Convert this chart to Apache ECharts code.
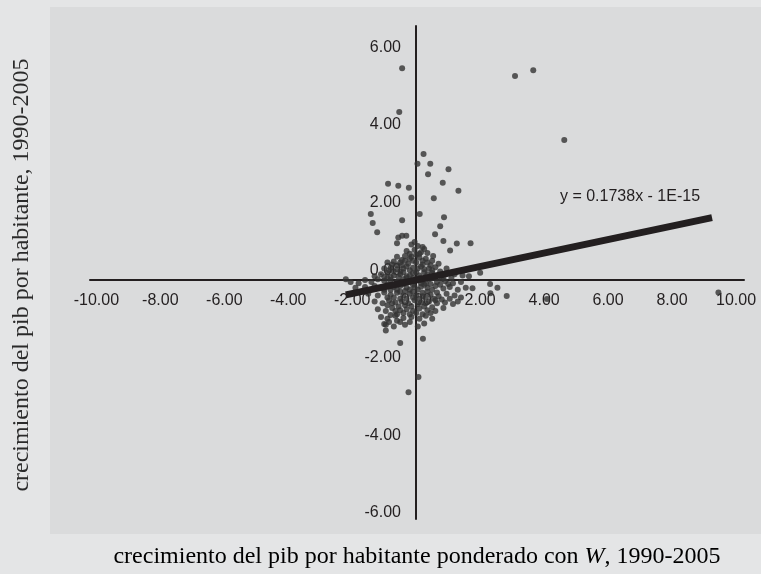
<!DOCTYPE html>
<html><head><meta charset="utf-8">
<script src="https://cdn.jsdelivr.net/npm/echarts@6/dist/echarts.min.js"></script>
<style>html,body{margin:0;padding:0;background:#e4e5e6;}#c{width:761px;height:574px;}</style>
</head><body><div id="c"></div>
<script>
const xTicks = [-10, -8, -6, -4, -2, 0, 2, 4, 6, 8, 10];
const yTicks = [-6, -4, -2, 0, 2, 4, 6];
const outlierPoints = [
  [-0.44,5.46],[3.09,5.26],[3.66,5.41],[4.63,3.61],[-0.53,4.33],[0.23,3.25],[0.04,3.00],[0.44,3.00],
  [1.01,2.86],[0.37,2.73],[0.83,2.51],[1.32,2.30],[-0.88,2.48],[-0.56,2.43],[-0.23,2.38],[-0.15,2.12],
  [0.55,2.11],[-1.42,1.70],[-1.36,1.47],[-1.22,1.23],[-0.44,1.54],[0.11,1.70],[0.87,1.62],[0.75,1.39],
  [0.59,1.18],[0.85,1.01],[1.27,0.94],[1.70,0.95],[1.06,0.76],[0.53,0.62],[-0.44,1.14],[-0.31,1.14],
  [-0.56,1.10],[-0.60,0.95],[2.0,0.19],[2.31,-0.10],[2.54,-0.20],[2.83,-0.41],[1.76,-0.21],[2.32,-0.34],
  [4.09,-0.49],[9.45,-0.32],[-1.0,-1.13],[-0.5,-1.62],[0.21,-1.51],[0.07,-2.50],[-0.24,-2.89]
];
const clusterPoints = [
  [-0.15,0.92],[0.05,0.88],[0.2,0.85],[-0.05,0.98],
  [-0.3,0.75],[-0.05,0.78],[0.15,0.72],[0.35,0.7],[-0.2,0.68],[0.25,0.8],
  [-0.6,0.6],[-0.35,0.62],[-0.15,0.6],[0.1,0.58],[0.3,0.55],[0.5,0.5],[-0.45,0.52],[0.0,0.65],[0.2,0.5],
  [-0.9,0.45],[-0.7,0.48],[-0.5,0.45],[-0.25,0.42],[0.0,0.45],[0.2,0.4],[0.45,0.38],[0.7,0.42],[-0.1,0.5],[0.35,0.45],[-0.6,0.38],
  [-1.0,0.3],[-0.8,0.32],[-0.6,0.28],[-0.4,0.3],[-0.2,0.25],[0.05,0.3],[0.25,0.28],[0.5,0.25],[0.75,0.22],[0.95,0.3],[1.2,0.15],
  [-0.7,0.22],[-0.3,0.35],[0.15,0.35],[0.4,0.3],[0.6,0.33],[-0.5,0.22],[-0.1,0.32],
  [-1.3,0.1],[-1.1,0.15],[-0.9,0.18],[-0.7,0.12],[-0.5,0.15],[-0.3,0.1],[-0.1,0.18],[0.1,0.12],[0.35,0.15],[0.6,0.1],[0.85,0.08],[1.1,0.05],[1.45,0.12],[1.65,0.1],
  [-0.8,0.08],[-0.4,0.2],[-0.2,0.12],[0.0,0.2],[0.25,0.2],[0.5,0.18],[0.75,0.14],[-1.0,0.08],
  [-2.2,0.02],[-2.05,-0.05],[-1.6,0.0],[-1.4,-0.05],[-1.2,0.02],[-1.0,-0.02],[-0.8,0.0],[-0.6,-0.05],[-0.4,0.02],[-0.2,-0.03],[0.0,0.0],[0.2,-0.02],[0.4,0.03],[0.65,-0.05],[0.9,-0.03],[1.15,-0.08],[1.4,-0.05],
  [-1.8,-0.08],[-0.9,0.04],[-0.5,-0.08],[-0.3,0.05],[-0.1,0.05],[0.1,0.05],[0.3,-0.08],[0.5,0.05],[0.8,0.02],[1.0,-0.1],
  [-1.9,-0.2],[-1.6,-0.18],[-1.3,-0.15],[-1.1,-0.2],[-0.9,-0.12],[-0.7,-0.18],[-0.5,-0.15],[-0.3,-0.2],[-0.1,-0.12],[0.15,-0.17],[0.35,-0.2],[0.6,-0.15],[0.85,-0.22],[1.05,-0.18],[1.3,-0.25],[1.55,-0.2],
  [-1.0,-0.25],[-0.6,-0.25],[-0.2,-0.25],[0.05,-0.25],[0.25,-0.12],[0.5,-0.25],[0.75,-0.12],[-0.8,-0.25],[-0.4,-0.1],
  [-1.5,-0.35],[-1.2,-0.4],[-1.0,-0.32],[-0.8,-0.38],[-0.6,-0.33],[-0.4,-0.4],[-0.2,-0.35],[0.0,-0.4],[0.2,-0.33],[0.45,-0.38],[0.7,-0.42],[0.95,-0.35],[1.2,-0.4],[1.4,-0.45],
  [-0.7,-0.45],[-0.3,-0.48],[0.1,-0.48],[0.3,-0.45],[0.55,-0.48],[0.8,-0.5],[1.05,-0.48],[-0.5,-0.3],[-0.1,-0.3],[1.3,-0.55],
  [-1.3,-0.55],[-1.05,-0.6],[-0.85,-0.52],[-0.65,-0.58],[-0.45,-0.55],[-0.25,-0.6],[-0.05,-0.52],[0.15,-0.58],[0.4,-0.55],[0.65,-0.6],[0.9,-0.58],[1.15,-0.62],
  [-0.55,-0.68],[-0.15,-0.68],[0.25,-0.68],[0.5,-0.7],[-0.9,-0.65],
  [-1.2,-0.75],[-0.95,-0.8],[-0.75,-0.72],[-0.5,-0.78],[-0.3,-0.75],[-0.1,-0.8],[0.1,-0.73],[0.35,-0.78],[0.6,-0.8],[0.85,-0.72],
  [-0.6,-0.88],[-0.2,-0.88],[0.2,-0.88],[-0.8,-0.9],
  [-1.1,-0.95],[-0.9,-1.0],[-0.65,-0.92],[-0.4,-0.98],[-0.15,-0.95],[0.1,-1.0],[0.3,-0.92],[0.5,-1.0],
  [-0.95,-1.15],[-0.7,-1.2],[-0.35,-1.15],[0.05,-1.2],[0.25,-1.12],[-0.95,-1.3],[-0.5,-1.08],[-0.2,-1.08],
  [-0.75,0.4],[-0.45,0.38],[-0.2,0.55],[0.1,0.68],[-0.35,0.5],[-0.85,0.25],[-0.55,0.08],[-0.25,-0.05],[0.15,-0.08],[0.45,-0.1],
  [-0.65,-0.12],[-0.35,-0.28],[-0.05,-0.18],[0.35,-0.3],[0.65,-0.32],[-0.9,-0.45],[-0.5,-0.48],[-0.1,-0.45],[0.2,-0.42],[0.6,-0.52],
  [-0.75,-0.6],[-0.35,-0.65],[0.05,-0.62],[0.3,-0.6],[-0.65,-0.8],[-0.4,-0.85],[0.0,-0.85],[0.45,-0.85],[-0.85,-1.08],[-0.6,-1.05]
];
const trendX = [-2.2, 9.25];
const trendY = [-0.38, 1.61];
const equationText = 'y = 0.1738x - 1E-15';
const xTitle = 'crecimiento del pib por habitante ponderado con ';
const yTitle = 'crecimiento del pib por habitante, 1990-2005';

const chart = echarts.init(document.getElementById('c'));
const ink = '#231f20';
const lab = {color: ink, fontFamily: 'Liberation Sans', fontSize: 16};
chart.setOption({
  backgroundColor: '#e4e5e6',
  animation: false,
  grid: {left: 90, right: 17, top: 26, bottom: 55, containLabel: false},
  xAxis: {
    type: 'value', min: -10.2, max: 10.25, position: 'bottom', offset: -239,
    splitLine: {show: false},
    axisLine: {onZero: false, lineStyle: {color: ink, width: 2}},
    axisTick: {show: false},
    axisLabel: Object.assign({customValues: xTicks, margin: 13, formatter: v => v.toFixed(2)}, lab)
  },
  yAxis: {
    type: 'value', min: -6.16, max: 6.55, position: 'left', offset: -326,
    splitLine: {show: false},
    axisLine: {onZero: false, lineStyle: {color: ink, width: 2}},
    axisTick: {show: false},
    axisLabel: Object.assign({customValues: yTicks, margin: 15,
      formatter: v => v === 0 ? '{z|0.00}' : v.toFixed(2),
      rich: {z: {color: ink, fontFamily: 'Liberation Sans', fontSize: 16, padding: [0, 0, 18, 0]}}}, lab)
  },
  graphic: [
    {type: 'rect', z: -10, silent: true, shape: {x: 50, y: 7, width: 711, height: 527}, style: {fill: '#dadbdc'}},
    {type: 'text', x: 630, y: 197, style: {text: equationText, fill: ink, font: '16px "Liberation Sans"', align: 'center', verticalAlign: 'middle'}},
    {type: 'text', x: 417, y: 557, style: {
      text: '{a|' + xTitle + '}{i|W}{a|, 1990-2005}',
      align: 'center', verticalAlign: 'middle',
      rich: {a: {fontFamily: 'Liberation Serif', fontSize: 24, color: '#2a2a2a'},
             i: {fontFamily: 'Liberation Serif', fontStyle: 'italic', fontSize: 24, color: '#2a2a2a'}}
    }},
    {type: 'text', x: 22, y: 275, rotation: Math.PI / 2, style: {
      text: yTitle, fill: '#2a2a2a', font: '24px "Liberation Serif"', align: 'center', verticalAlign: 'middle'
    }}
  ],
  series: [
    {type: 'scatter', data: clusterPoints.concat(outlierPoints), symbolSize: 6,
     itemStyle: {color: '#333333'}, z: 2},
    {type: 'line', data: trendX.map((x, i) => [x, trendY[i]]), showSymbol: false, symbol: 'none',
     lineStyle: {color: ink, width: 7, cap: 'butt'}, z: 5}
  ]
});
</script></body></html>
